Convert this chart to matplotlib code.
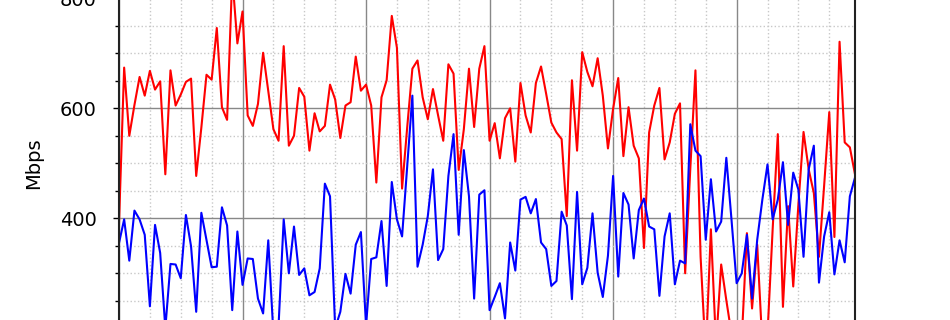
import numpy as np
import matplotlib
matplotlib.use("Agg")
import matplotlib.pyplot as plt
from matplotlib.ticker import MultipleLocator, FuncFormatter

# hourly samples over six days
hours = np.arange(144)

download_mbps = [
    390, 674, 550, 606, 657, 623, 668, 634, 649, 480,
    669, 605, 625, 648, 654, 477, 565, 661, 652, 746,
    602, 579, 840, 718, 776, 587, 568, 608, 701, 632,
    562, 541, 713, 532, 550, 637, 621, 523, 591, 558,
    568, 643, 616, 546, 605, 611, 694, 632, 643, 605,
    465, 620, 651, 768, 710, 454, 566, 672, 687, 620,
    580, 635, 587, 541, 680, 663, 488, 562, 672, 566,
    672, 713, 541, 573, 509, 582, 600, 503, 646, 587,
    556, 646, 676, 626, 574, 556, 544, 404, 651, 523,
    702, 666, 640, 691, 623, 527, 599, 655, 513, 602,
    532, 509, 346, 556, 605, 637, 507, 538, 590, 609,
    300, 490, 669, 330, 150, 380, 170, 316, 251, 190,
    160, 180, 373, 236, 352, 170, 190, 380, 553, 239,
    422, 276, 425, 557, 489, 446, 330, 459, 593, 366,
    721, 538, 529, 480,
]

upload_mbps = [
    355, 398, 323, 414, 398, 370, 240, 388, 337, 200,
    317, 316, 291, 406, 349, 230, 410, 361, 311, 312,
    420, 387, 233, 376, 279, 327, 326, 254, 227, 360,
    190, 205, 398, 300, 385, 297, 309, 260, 266, 309,
    463, 440, 200, 230, 299, 263, 352, 375, 205, 326,
    329, 395, 277, 466, 398, 367, 495, 623, 312, 352,
    404, 489, 324, 344, 477, 553, 370, 524, 440, 254,
    443, 451, 233, 257, 282, 218, 356, 305, 434, 439,
    409, 435, 356, 344, 277, 286, 412, 387, 253, 448,
    280, 310, 409, 301, 257, 332, 477, 294, 446, 425,
    327, 415, 436, 385, 380, 259, 367, 409, 280, 323,
    318, 571, 523, 513, 361, 471, 376, 394, 510, 398,
    282, 300, 370, 254, 361, 434, 498, 398, 434, 502,
    388, 483, 452, 330, 489, 532, 283, 367, 411, 298,
    360, 320, 440, 474,
]

fig = plt.figure(figsize=(9.5, 3.2), dpi=100)
# the visible window only shows the middle band of the axes
ax = fig.add_axes([119 / 950, -0.3697, 736 / 950, 1.7188])

ax.plot(hours, download_mbps, color="red", linewidth=1.5)
ax.plot(hours, upload_mbps, color="blue", linewidth=1.5)

ax.set_xlim(0, 143)
ax.set_ylim(0, 1000)

ax.xaxis.set_major_locator(MultipleLocator(24))
ax.xaxis.set_minor_locator(MultipleLocator(6))
ax.yaxis.set_major_locator(MultipleLocator(200))
ax.yaxis.set_minor_locator(MultipleLocator(50))
# labels below the visible band are not shown
ax.yaxis.set_major_formatter(FuncFormatter(lambda v, p: f"{v:.0f}" if v >= 300 else ""))

ax.grid(which="major", color="#888888", linestyle="-", linewidth=1.0)
ax.grid(which="minor", color="#c8c8c8", linestyle=":", linewidth=1.0)
ax.set_axisbelow(True)

ax.tick_params(axis="y", which="major", labelsize=14, length=4, width=1.0, pad=12)
ax.tick_params(axis="y", which="minor", length=3, width=1.0)
ax.tick_params(axis="x", labelbottom=False)

ax.set_ylabel("Mbps", fontsize=14, labelpad=3)

for side in ["left", "right"]:
    ax.spines[side].set_linewidth(1.5)
    ax.spines[side].set_color("#222222")

fig.savefig("out.png", dpi=100)
